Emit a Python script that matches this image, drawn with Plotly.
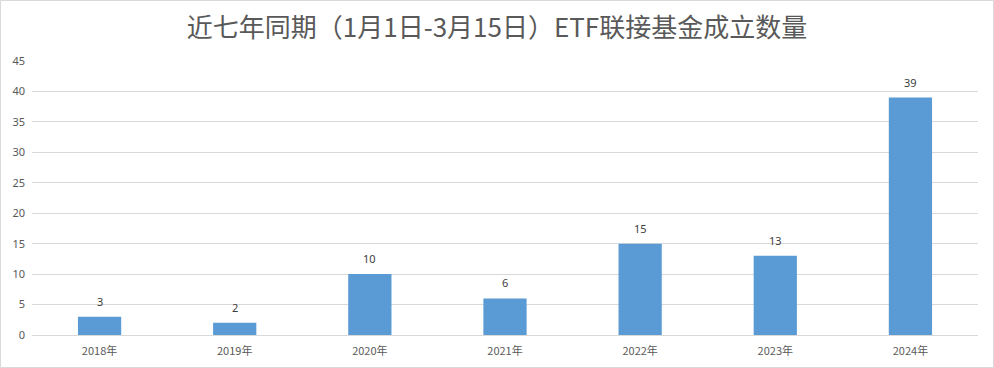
import plotly.graph_objects as go

categories = ["2018年", "2019年", "2020年", "2021年", "2022年", "2023年", "2024年"]
values = [3, 2, 10, 6, 15, 13, 39]
y_ticks = [0, 5, 10, 15, 20, 25, 30, 35, 40, 45]
title_text = "近七年同期（1月1日-3月15日）ETF联接基金成立数量"

W, H = 994, 368
ml, mr, mt, mb = 32, 16, 61, 33
pw, ph = W - ml - mr, H - mt - mb

fig = go.Figure(go.Bar(
    x=categories, y=values,
    marker=dict(color="#5B9BD5", line=dict(width=0)),
    hoverinfo="x+y",
))

for c, v in zip(categories, values):
    fig.add_annotation(x=c, y=v, text=str(v), showarrow=False, yanchor="bottom", yshift=6,
                       font=dict(size=11, color="#404040", family="Noto Sans, Arial"))

fig.update_layout(
    width=W, height=H,
    margin=dict(l=ml, r=mr, t=mt, b=mb, autoexpand=False),
    paper_bgcolor="white", plot_bgcolor="white",
    bargap=0.68,
    showlegend=False,
    title=dict(text=title_text, x=0.5, xanchor="center", y=1 - 28 / H, yanchor="middle",
               font=dict(size=26, color="#595959", family="Noto Sans CJK SC")),
    xaxis=dict(showgrid=False, showline=False, ticks="", tickfont=dict(size=11, color="#595959", family="Noto Sans CJK SC"),
               fixedrange=True, ticklabelstandoff=8, automargin=False),
    yaxis=dict(range=[0, 45], tickvals=y_ticks, showgrid=True, gridcolor="#d9d9d9", gridwidth=1,
               zeroline=True, zerolinecolor="#d9d9d9", zerolinewidth=1, showline=False, automargin=False,
               tickfont=dict(size=11, color="#595959", family="Noto Sans, Arial"), ticks="", ticklabelstandoff=6),
    shapes=[dict(type="rect", xref="paper", yref="paper",
                 x0=(-ml + 0.5) / pw, x1=(pw + mr - 0.5) / pw,
                 y0=(-mb + 0.5) / ph, y1=(ph + mt - 0.5) / ph,
                 line=dict(color="#d9d9d9", width=1), fillcolor="rgba(0,0,0,0)", layer="below")],
)

fig.write_html("out.html", config={"displayModeBar": False},
               post_script="document.body.style.margin='0';document.body.style.padding='0';")
